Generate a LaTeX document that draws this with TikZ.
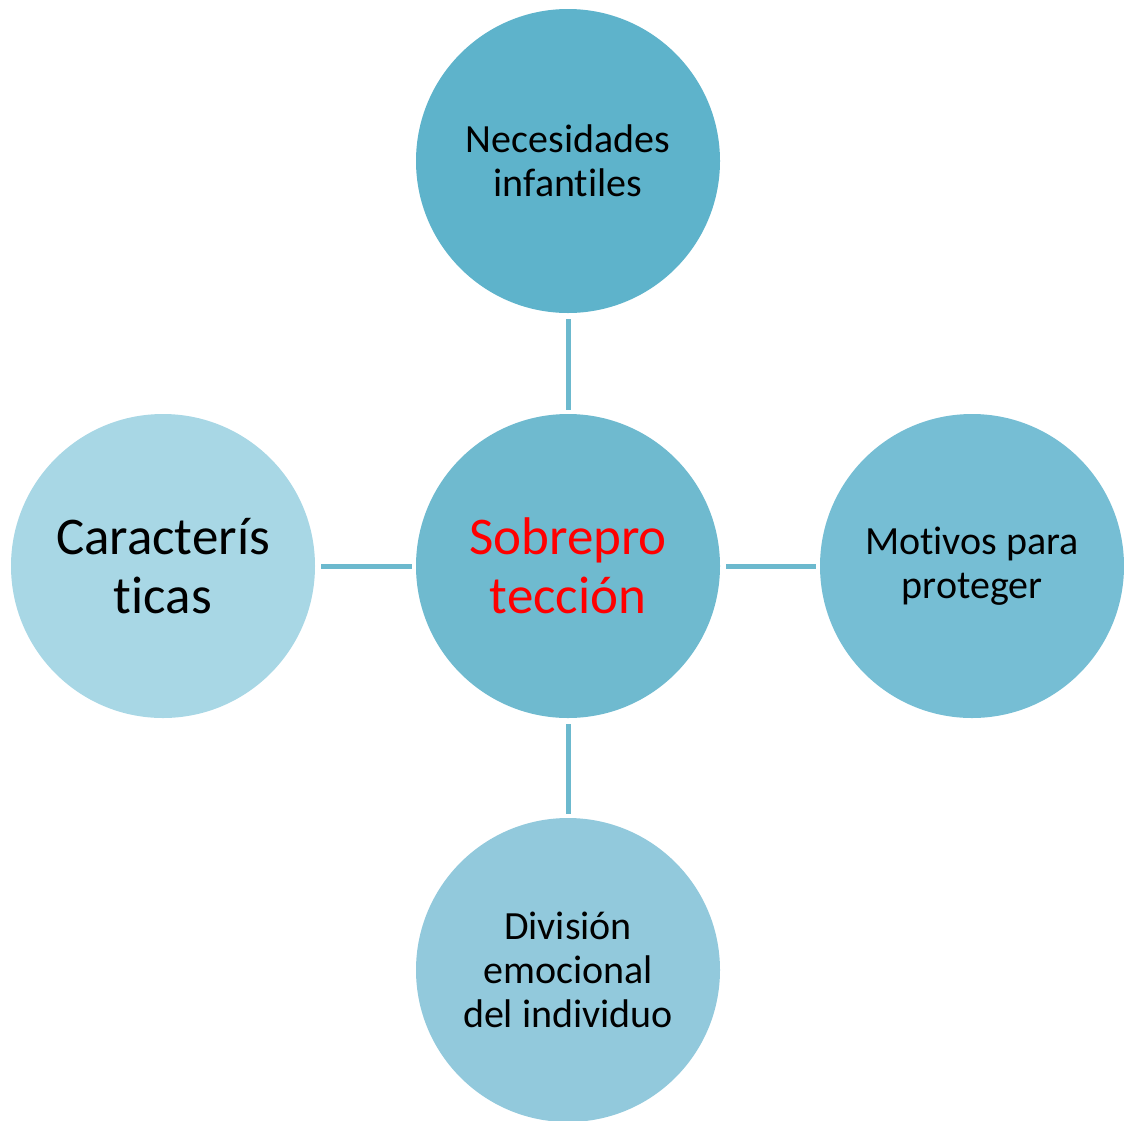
\documentclass[tikz,border=0pt]{standalone}
\usepackage{fontspec}
\setmainfont{Carlito}[Ligatures={NoCommon}]
\definecolor{ctop}{HTML}{5EB3CB}
\definecolor{ccenter}{HTML}{6FBACF}
\definecolor{cright}{HTML}{76BED4}
\definecolor{cleft}{HTML}{A8D7E5}
\definecolor{cbottom}{HTML}{92C9DC}
\definecolor{cline}{HTML}{6CB9CE}
\definecolor{red1}{HTML}{FF0000}
\tikzset{
  bubble/.style={circle, minimum size=304pt, inner sep=0pt, align=center,
    font=\fontsize{40}{44}\selectfont, text=black},
  bigtext/.style={font=\fontsize{53}{59}\selectfont},
  conn/.style={draw=cline, line width=5pt, shorten <=6pt, shorten >=4pt}
}
\begin{document}
\begin{tikzpicture}[x=1pt,y=1pt]
\useasboundingbox (0,0) rectangle (1124,-1120);
\node[bubble, fill=ccenter, bigtext, text=red1] (center) at (568,-566) {Sobrepro\\tección};
\node[bubble, fill=ctop] (top) at (568,-161) {Necesidades\\infantiles};
\node[bubble, fill=cleft, bigtext] (left) at (163,-566) {Caracterís\\ticas};
\node[bubble, fill=cright] (right) at (972,-566) {Motivos para\\proteger};
\node[bubble, fill=cbottom] (bottom) at (568,-970) {División\\emocional\\del individuo};
\draw[conn] (top) -- (center);
\draw[conn] (left) -- (center);
\draw[conn] (center) -- (right);
\draw[conn] (center) -- (bottom);
\end{tikzpicture}
\end{document}
